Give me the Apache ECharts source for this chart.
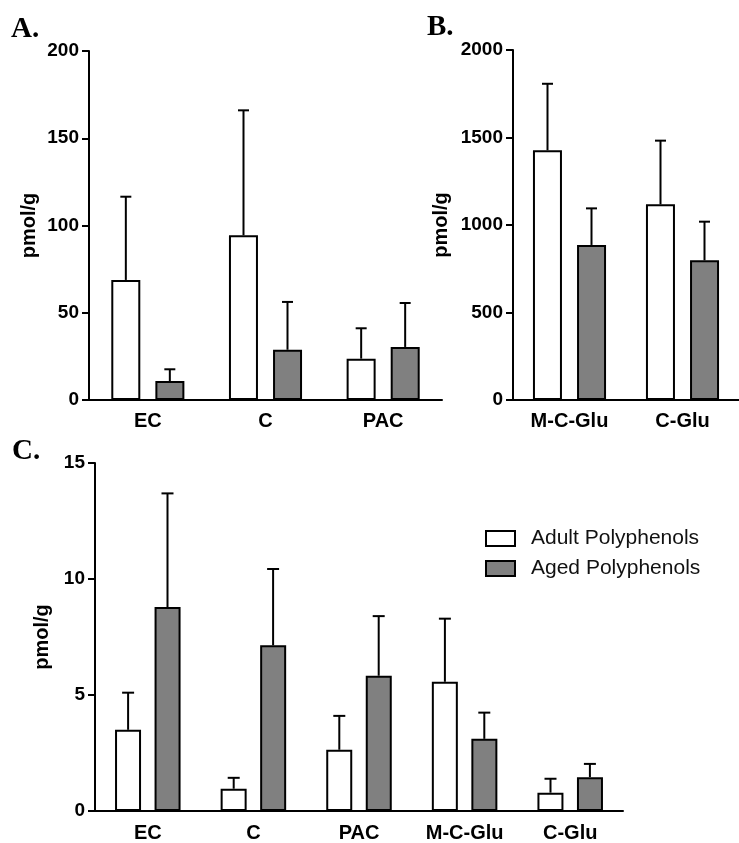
<!DOCTYPE html>
<html>
<head>
<meta charset="utf-8">
<title>Polyphenols pmol/g</title>
<script src="https://cdn.jsdelivr.net/npm/echarts@6/dist/echarts.min.js"></script>
<style>
  html, body { margin: 0; padding: 0; background: #fff; }
  #chart { width: 739px; height: 843px; }
</style>
</head>
<body>
<div id="chart"></div>
<script>
// panel A
const catsA = ['EC', 'C', 'PAC']
const adultA = [68.8, 94.4, 23.7]
const adultSdA = [47.7, 71.6, 17.4]
const agedA = [10.9, 28.8, 30.4]
const agedSdA = [6.7, 27.4, 25.2]
// panel B
const catsB = ['M-C-Glu', 'C-Glu']
const adultB = [1427, 1118]
const adultSdB = [380, 364]
const agedB = [886, 798]
const agedSdB = [209, 221]
// panel C
const catsC = ['EC', 'C', 'PAC', 'M-C-Glu', 'C-Glu']
const adultC = [3.5, 0.96, 2.64, 5.57, 0.79]
const adultSdC = [1.6, 0.47, 1.46, 2.72, 0.6]
const agedC = [8.79, 7.14, 5.83, 3.11, 1.46]
const agedSdC = [4.9, 3.29, 2.57, 1.13, 0.57]
const ticksA = [0, 200, 50]
const ticksB = [0, 2000, 500]
const ticksC = [0, 15, 5]

const SANS = '"Liberation Sans", Arial, sans-serif'
const GREY = '#808080'

const myChart = echarts.init(document.getElementById('chart'))

function xAxisFor(idx, cats, margin) {
  return {
    type: 'category',
    gridIndex: idx,
    data: cats,
    axisLine: { lineStyle: { color: '#000', width: 2 } },
    axisTick: { alignWithLabel: true, length: 7, lineStyle: { color: '#000', width: 2 } },
    axisLabel: { color: '#000', fontFamily: SANS, fontWeight: 'bold', fontSize: 20, margin: margin, interval: 0 },
    splitLine: { show: false }
  }
}

function yAxisFor(idx, t, gap) {
  return {
    type: 'value',
    gridIndex: idx,
    min: t[0],
    max: t[1],
    interval: t[2],
    name: 'pmol/g',
    nameLocation: 'middle',
    nameGap: gap,
    nameTextStyle: { color: '#000', fontFamily: SANS, fontWeight: 'bold', fontSize: 20 },
    axisLine: { show: true, lineStyle: { color: '#000', width: 2 } },
    axisTick: { show: true, length: 7, lineStyle: { color: '#000', width: 2 } },
    axisLabel: {
      color: '#000', fontFamily: SANS, fontWeight: 'bold', fontSize: 19, margin: 10,
      formatter: v => String(v)
    },
    splitLine: { show: false }
  }
}

function barFor(idx, name, vals, fill, bw) {
  return {
    name: name,
    type: 'bar',
    xAxisIndex: idx,
    yAxisIndex: idx,
    data: vals,
    barWidth: bw,
    barGap: '52%',
    itemStyle: { color: fill, borderColor: '#000', borderWidth: 2 },
    emphasis: { disabled: true },
    z: 2
  }
}

// upper error bar only, drawn from the bar top
function errFor(idx, vals, sds, offset, cap) {
  return {
    type: 'custom',
    name: 'err',
    xAxisIndex: idx,
    yAxisIndex: idx,
    data: vals.map((v, i) => [i, v, v + sds[i]]),
    renderItem: function(params, api) {
      const base = api.coord([api.value(0), api.value(1)])
      const top = api.coord([api.value(0), api.value(2)])
      const x = base[0] + offset
      const style = { stroke: '#000', lineWidth: 2 }
      return {
        type: 'group',
        children: [
          { type: 'line', shape: { x1: x, y1: base[1], x2: x, y2: top[1] }, style: style },
          { type: 'line', shape: { x1: x - cap / 2, y1: top[1], x2: x + cap / 2, y2: top[1] }, style: style }
        ]
      }
    },
    z: 3,
    silent: true
  }
}

function letter(txt, x, y) {
  return {
    type: 'text',
    left: x,
    top: y,
    style: { text: txt, fill: '#000', font: 'bold 29px "Liberation Serif", "DejaVu Serif", serif' }
  }
}

const option = {
  animation: false,
  grid: [
    { left: 89, top: 51, width: 353, height: 349 },
    { left: 513, top: 50, width: 233, height: 350 },
    { left: 95, top: 463, width: 528, height: 350 }
  ],
  xAxis: [xAxisFor(0, catsA, 11), xAxisFor(1, catsB, 11), xAxisFor(2, catsC, 12)],
  yAxis: [yAxisFor(0, ticksA, 50), yAxisFor(1, ticksB, 62), yAxisFor(2, ticksC, 41)],
  legend: {
    data: ['Adult Polyphenols', 'Aged Polyphenols'],
    orient: 'vertical',
    left: 480,
    top: 523,
    itemWidth: 29,
    itemHeight: 15,
    itemGap: 9,
    icon: 'rect',
    selectedMode: false,
    textStyle: { color: '#111', fontFamily: SANS, fontSize: 21, padding: [0, 0, 0, 11] }
  },
  graphic: [letter('A.', 11, 15), letter('B.', 427, 13), letter('C.', 12, 437)],
  series: [
    barFor(0, 'Adult Polyphenols', adultA, '#fff', 29),
    barFor(0, 'Aged Polyphenols', agedA, GREY, 29),
    errFor(0, adultA, adultSdA, -22, 11),
    errFor(0, agedA, agedSdA, 22, 11),
    barFor(1, 'Adult Polyphenols', adultB, '#fff', 29),
    barFor(1, 'Aged Polyphenols', agedB, GREY, 29),
    errFor(1, adultB, adultSdB, -22, 11),
    errFor(1, agedB, agedSdB, 22, 11),
    barFor(2, 'Adult Polyphenols', adultC, '#fff', 26),
    barFor(2, 'Aged Polyphenols', agedC, GREY, 26),
    errFor(2, adultC, adultSdC, -19.7, 12),
    errFor(2, agedC, agedSdC, 19.7, 12)
  ]
}
myChart.setOption(option)
</script>
</body>
</html>
